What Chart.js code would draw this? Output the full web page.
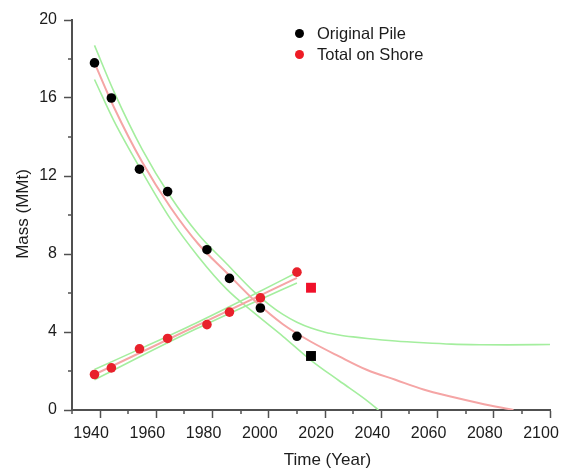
<!DOCTYPE html>
<html><head><meta charset="utf-8">
<script src="https://cdn.jsdelivr.net/npm/chart.js@4.4.1/dist/chart.umd.min.js"></script>
<style>
html,body{margin:0;padding:0;background:#fff;}
#wrap{position:relative;width:562px;height:470px;font-family:"Liberation Sans",Arial,sans-serif;color:#1c1c1c;overflow:hidden;}
canvas{position:absolute;left:0;top:0;}
.lg{position:absolute;left:317px;font-size:16.5px;line-height:20px;white-space:nowrap;}
.dot{position:absolute;width:9px;height:9px;border-radius:50%;}
.xt{position:absolute;left:0;width:655px;top:450px;text-align:center;font-size:17px;line-height:20px;}
.yt{position:absolute;left:-77px;top:203.5px;width:200px;text-align:center;font-size:17px;line-height:20px;transform:rotate(-90deg);}
</style></head>
<body>
<div id="wrap">
<canvas id="c" width="562" height="470"></canvas>
<div class="dot" style="left:294.5px;top:28.5px;background:#000;"></div>
<div class="lg" style="top:23px;">Original Pile</div>
<div class="dot" style="left:294.5px;top:50px;background:#ee1c25;"></div>
<div class="lg" style="top:44px;">Total on Shore</div>
<div class="xt">Time (Year)</div>
<div class="yt">Mass (MMt)</div>
</div>
<script>
// observed data
const sampleYears = [1938,1944,1954,1964,1978,1986,1997,2010];
const pileMass    = [17.8,16.0,12.35,11.2,8.22,6.75,5.23,3.78];
const shoreMass   = [1.82,2.16,3.14,3.67,4.38,5.02,5.75,7.07];
// projected (square markers)
const projYears   = [2015];
const pileProj    = [2.77];
const shoreProj   = [6.27];
// fitted curve for original pile
const pileFitYears = [1938,1945,1955,1965,1975,1985,1995,2005,2015,2025,2035,2045,2055,2065,2075,2087];
const pileFit      = [17.8,15.5,12.7,10.4,8.5,7.04,5.6,4.4,3.5,2.75,2.05,1.55,1.05,0.68,0.35,0];
// confidence band for original pile
const pileUpperYears = [1938,1945,1955,1965,1975,1985,1995,2000,2005,2010,2015,2020,2025,2030,2035,2045,2055,2065,2075,2085,2100];
const pileUpper      = [18.7,16.3,13.35,10.95,9.0,7.5,6.03,5.42,4.9,4.5,4.2,3.99,3.85,3.75,3.67,3.54,3.45,3.38,3.35,3.34,3.36];
const pileLowerYears = [1938,1945,1955,1965,1975,1985,1995,2005,2015,2025,2035,2039];
const pileLower      = [16.95,14.8,12.2,9.8,7.85,6.2,4.95,3.78,2.55,1.5,0.47,0];
// linear fit and band for total on shore
const shoreFitYears  = [1938,2010];
const shoreFit       = [1.82,6.78];
const shoreBandYears = [1938,1956,1974,1992,2010];
const shoreUpper     = [2.08,3.25,4.45,5.73,7.05];
const shoreLower     = [1.55,2.87,4.15,5.35,6.51];
// axis ticks
const xTickLabels = [1940,1960,1980,2000,2020,2040,2060,2080,2100];
const yTickLabels = [0,4,8,12,16,20];

const FONT = '"Liberation Sans", Arial, sans-serif';
const AXIS = '#505050';
const toXY = (xs, ys) => xs.map((x, i) => ({x: x, y: ys[i]}));
const curve = (xs, ys, color, w, order) => ({
  data: toXY(xs, ys), showLine: true, borderColor: color, borderWidth: w,
  pointRadius: 0, fill: false, cubicInterpolationMode: 'monotone', order: order
});
const dots = (xs, ys, color, style, r) => ({
  data: toXY(xs, ys), showLine: false, pointStyle: style, pointRadius: r,
  pointBackgroundColor: color, pointBorderColor: color, pointBorderWidth: 0, order: 0
});

const minorTicks = {
  id: 'minorTicks',
  afterDraw(chart) {
    const {ctx, scales: {x, y}} = chart;
    ctx.save();
    ctx.strokeStyle = AXIS; ctx.lineWidth = 1.5;
    x.ticks.forEach(t => {
      if (xTickLabels.includes(t.value)) return;
      const px = Math.round(x.getPixelForValue(t.value));
      ctx.beginPath(); ctx.moveTo(px, x.top); ctx.lineTo(px, x.top + 4); ctx.stroke();
    });
    y.ticks.forEach(t => {
      if (yTickLabels.includes(t.value)) return;
      const py = Math.round(y.getPixelForValue(t.value));
      ctx.beginPath(); ctx.moveTo(y.right, py); ctx.lineTo(y.right - 4, py); ctx.stroke();
    });
    ctx.restore();
  }
};

new Chart(document.getElementById('c'), {
  type: 'scatter',
  data: {
    datasets: [
      dots(sampleYears, pileMass, '#000000', 'circle', 4.8),
      dots(sampleYears, shoreMass, '#e8212b', 'circle', 4.8),
      dots(projYears, pileProj, '#000000', 'rect', 7),
      dots(projYears, shoreProj, '#f0102a', 'rect', 7),
      curve(pileFitYears, pileFit, '#f5a5a5', 2, 1),
      curve(shoreFitYears, shoreFit, '#f5a5a5', 2, 1),
      curve(pileUpperYears, pileUpper, '#a4ee9e', 1.6, 2),
      curve(pileLowerYears, pileLower, '#a4ee9e', 1.6, 2),
      curve(shoreBandYears, shoreUpper, '#a4ee9e', 1.6, 2),
      curve(shoreBandYears, shoreLower, '#a4ee9e', 1.6, 2)
    ]
  },
  options: {
    responsive: false, animation: false,
    layout: {padding: {top: 20, right: 12, left: 0, bottom: 0}},
    plugins: {legend: {display: false}, tooltip: {enabled: false}},
    scales: {
      x: {
        type: 'linear', min: 1930, max: 2100,
        border: {color: AXIS, width: 2},
        grid: {drawOnChartArea: false, drawTicks: true, tickLength: 8, tickWidth: 1.5,
               tickColor: c => (c.tick && xTickLabels.includes(c.tick.value)) ? AXIS : 'rgba(0,0,0,0)'},
        ticks: {stepSize: 10, autoSkip: false, maxRotation: 0, minRotation: 0, labelOffset: -9, padding: 6,
                color: '#1c1c1c', font: {family: FONT, size: 16},
                callback: v => xTickLabels.includes(v) ? String(v) : ''},
        afterFit(s) { s.height = 60; s.paddingLeft = 0; s.paddingRight = 0; }
      },
      y: {
        type: 'linear', min: 0, max: 20,
        border: {color: AXIS, width: 2},
        grid: {drawOnChartArea: false, drawTicks: true, tickLength: 8, tickWidth: 1.5,
               tickColor: c => (c.tick && yTickLabels.includes(c.tick.value)) ? AXIS : 'rgba(0,0,0,0)'},
        ticks: {stepSize: 2, autoSkip: false, padding: 7,
                color: '#1c1c1c', font: {family: FONT, size: 16},
                callback: v => yTickLabels.includes(v) ? String(v) : ''},
        afterFit(s) { s.width = 72; s.paddingTop = 0; s.paddingBottom = 0; }
      }
    }
  },
  plugins: [minorTicks]
});
</script>
</body></html>
